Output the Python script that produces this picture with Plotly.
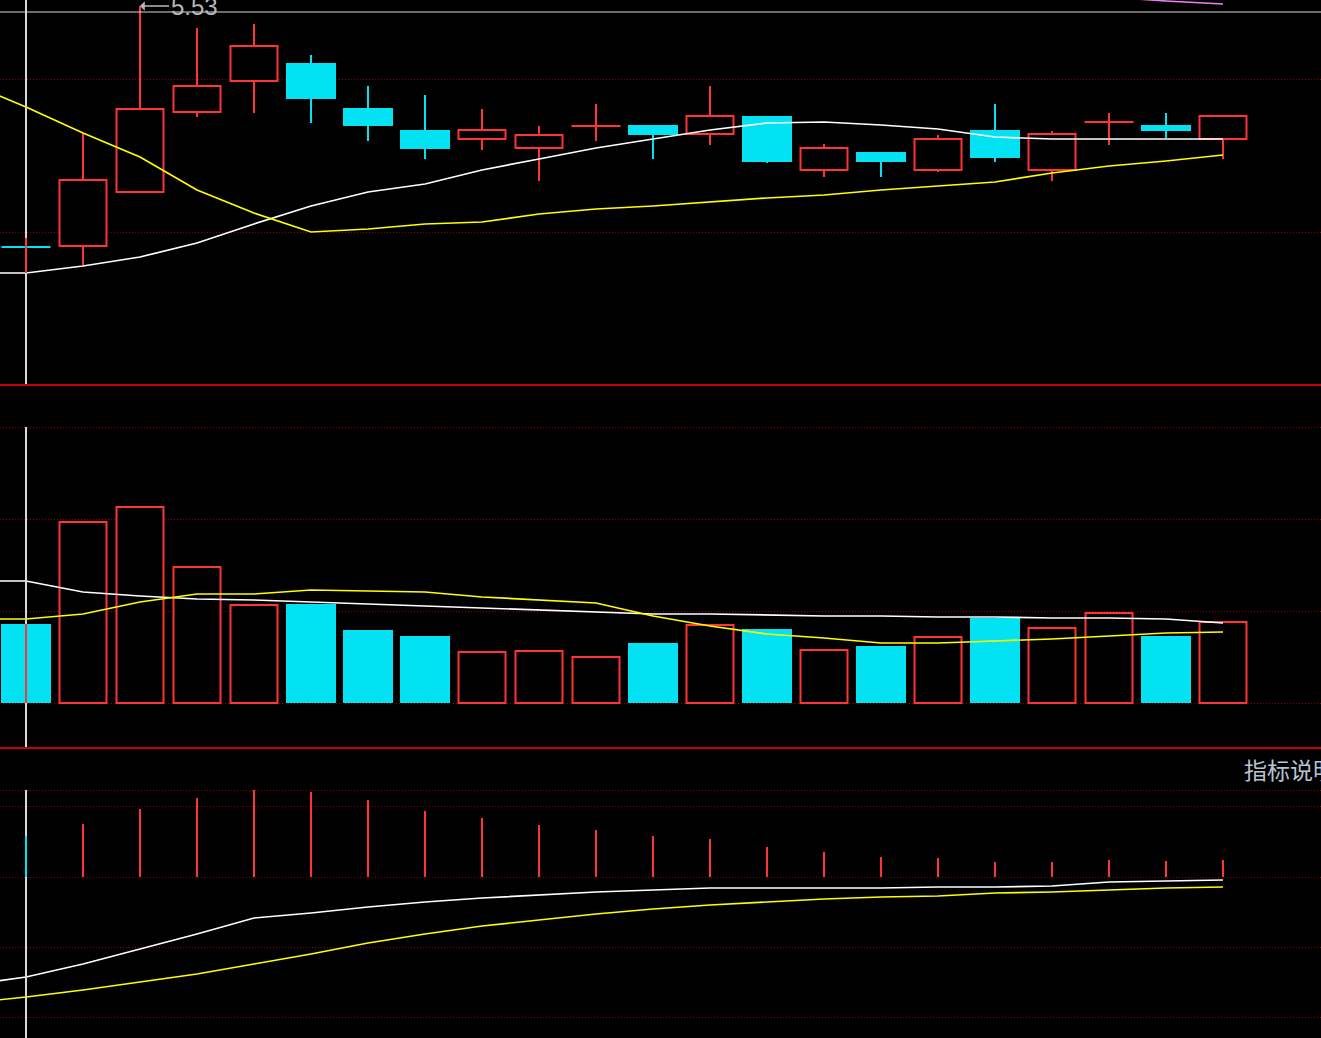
import plotly.graph_objects as go

# ------------------------------------------------------------------ data
# day index 0..21 (candles); line series also carry the value of day -1
days = list(range(22))
line_days = list(range(-1, 22))

open_ = [3.12, 3.13, 3.67, 4.47, 4.78, 4.96, 4.51, 4.29, 4.20, 4.11, 4.33,
         4.34, 4.25, 4.43, 3.89, 4.07, 3.89, 4.29, 3.89, 4.37, 4.34, 4.20]
high = [3.21, 4.26, 5.53, 5.31, 5.35, 5.04, 4.73, 4.64, 4.50, 4.33, 4.55,
        4.34, 4.73, 4.43, 4.15, 4.07, 4.24, 4.55, 4.28, 4.46, 4.46, 4.43]
low = [2.86, 2.94, 3.66, 4.42, 4.46, 4.36, 4.18, 4.00, 4.09, 3.78, 4.18,
       4.00, 4.14, 3.96, 3.82, 3.82, 3.87, 3.97, 3.78, 4.14, 4.21, 4.00]
close = [3.12, 3.79, 4.50, 4.73, 5.13, 4.60, 4.33, 4.10, 4.29, 4.24, 4.33,
         4.24, 4.43, 3.97, 4.11, 3.97, 4.20, 4.01, 4.25, 4.37, 4.28, 4.43]

ma_white = [2.86, 2.86, 2.93, 3.02, 3.16, 3.35, 3.53, 3.67, 3.75, 3.89, 4.00, 4.11,
            4.20, 4.29, 4.36, 4.37, 4.34, 4.30, 4.22, 4.20, 4.20, 4.20, 4.20]
ma_yellow = [4.76, 4.52, 4.26, 4.02, 3.69, 3.46, 3.27, 3.30, 3.35, 3.37, 3.45, 3.50,
             3.53, 3.57, 3.61, 3.64, 3.69, 3.73, 3.77, 3.86, 3.93, 3.98, 4.04]
ma_pink = [None] * 20 + [5.62, 5.58, 5.55]

volume = [39500, 90500, 98000, 68000, 49000, 49500, 36500, 33500, 25500, 26000, 23000,
          30000, 39000, 37000, 26500, 28500, 33000, 42500, 37500, 45000, 33500, 40500]
vol_ma_white = [61000, 61000, 55500, 53500, 52000, 51500, 50500, 49500, 48500, 47500, 46500,
                45500, 44500, 44500, 44000, 43500, 43500, 43000, 43000, 42500, 42500, 42000, 40000]
vol_ma_yellow = [42000, 42000, 44500, 50500, 54500, 54500, 56500, 56000, 55500, 53000, 51500,
                 50000, 43500, 38500, 34500, 32500, 30000, 30000, 31000, 32000, 33500, 35000, 35500]

macd_hist = [0.041, 0.053, 0.068, 0.079, 0.087, 0.085, 0.077, 0.066, 0.059, 0.052, 0.047,
             0.041, 0.038, 0.030, 0.025, 0.020, 0.019, 0.015, 0.015, 0.017, 0.016, 0.017]
dif = [-0.108, -0.100, -0.087, -0.072, -0.057, -0.041, -0.036, -0.030, -0.025, -0.021, -0.018,
       -0.015, -0.013, -0.011, -0.011, -0.011, -0.011, -0.010, -0.010, -0.009, -0.005, -0.004, -0.003]
dea = [-0.126, -0.120, -0.113, -0.105, -0.097, -0.087, -0.077, -0.066, -0.057, -0.049, -0.043,
       -0.037, -0.032, -0.028, -0.025, -0.022, -0.020, -0.019, -0.016, -0.015, -0.013, -0.011, -0.010]

cursor_index = 0
cursor_price = 5.47
indicator_label = "指标说明"

price_grid = [4.80, 3.27]
vol_grid = [0, 46000, 92000, 138000]
macd_grid = [0.087, 0.071, 0, -0.070, -0.140]

price_range = [1.74, 5.59]
vol_range = [-22500, 159000]
macd_range = [-0.161, 0.129]

# ------------------------------------------------------------------ styles
W, H = 1321, 1038
STEP = 57.0           # px per day
FIRST_PX = 26.0       # px position of day 0
RED = "#ff3434"
CYAN = "#02e2f2"
GRID = "#8c0000"
SEP = "#c40000"
CROSS = "#d8d8d8"
RED_W = 47 / STEP
CYAN_W = 50 / STEP
LW = 1.7

x0 = -FIRST_PX / STEP
x1 = x0 + W / STEP

# panel boundaries in px (from top)
P_PRICE_BOTTOM = 385
P_VOL_BOTTOM = 748
dom_price = [(H - P_PRICE_BOTTOM) / H, 1]
dom_vol = [(H - P_VOL_BOTTOM) / H, (H - P_PRICE_BOTTOM) / H]
dom_macd = [0, (H - P_VOL_BOTTOM) / H]


def direction(i):
    if close[i] > open_[i]:
        return 1
    if close[i] < open_[i]:
        return -1
    return 1 if (i > 0 and close[i] >= close[i - 1]) else -1


dirs = [direction(i) for i in days]

fig = go.Figure()

# ---------------- price panel: candle bodies
for d, col in ((1, RED), (-1, CYAN)):
    idx = [i for i in days if dirs[i] == d and close[i] != open_[i]]
    fig.add_trace(go.Bar(
        x=idx,
        base=[min(open_[i], close[i]) for i in idx],
        y=[abs(close[i] - open_[i]) for i in idx],
        width=RED_W if d == 1 else CYAN_W,
        marker=dict(color="black" if d == 1 else CYAN,
                    line=dict(color=col, width=2 if d == 1 else 0)),
        xaxis="x", yaxis="y", hoverinfo="skip"))

# wicks (split so they do not cross hollow bodies) and doji bars
for d, col in ((1, RED), (-1, CYAN)):
    wx, wy, dx, dy = [], [], [], []
    for i in days:
        if dirs[i] != d:
            continue
        top = max(open_[i], close[i])
        bot = min(open_[i], close[i])
        if high[i] > top:
            wx += [i, i, None]
            wy += [top, high[i], None]
        if low[i] < bot:
            wx += [i, i, None]
            wy += [bot, low[i], None]
        if close[i] == open_[i]:
            dx += [i - 0.43, i + 0.43, None]
            dy += [close[i], close[i], None]
    fig.add_trace(go.Scatter(x=wx, y=wy, mode="lines", line=dict(color=col, width=2),
                             xaxis="x", yaxis="y", hoverinfo="skip"))
    fig.add_trace(go.Scatter(x=dx, y=dy, mode="lines", line=dict(color=col, width=2),
                             xaxis="x", yaxis="y", hoverinfo="skip"))

for ser, col in ((ma_white, "#ffffff"), (ma_yellow, "#ffff00"), (ma_pink, "#ee82ee")):
    fig.add_trace(go.Scatter(x=line_days, y=ser, mode="lines", line=dict(color=col, width=LW),
                             xaxis="x", yaxis="y", hoverinfo="skip", connectgaps=False))

# ---------------- volume panel
for d, col in ((1, RED), (-1, CYAN)):
    idx = [i for i in days if dirs[i] == d]
    fig.add_trace(go.Bar(
        x=idx, y=[volume[i] for i in idx],
        width=RED_W if d == 1 else CYAN_W,
        marker=dict(color="black" if d == 1 else CYAN,
                    line=dict(color=col, width=2 if d == 1 else 0)),
        xaxis="x", yaxis="y2", hoverinfo="skip"))
for ser, col in ((vol_ma_white, "#ffffff"), (vol_ma_yellow, "#ffff00")):
    fig.add_trace(go.Scatter(x=line_days, y=ser, mode="lines", line=dict(color=col, width=LW),
                             xaxis="x", yaxis="y2", hoverinfo="skip"))

# ---------------- MACD panel
fig.add_trace(go.Bar(
    x=days, y=macd_hist, width=2 / STEP,
    marker=dict(color=[RED if v >= 0 else CYAN for v in macd_hist], line=dict(width=0)),
    xaxis="x", yaxis="y3", hoverinfo="skip"))
for ser, col in ((dif, "#ffffff"), (dea, "#ffff00")):
    fig.add_trace(go.Scatter(x=line_days, y=ser, mode="lines", line=dict(color=col, width=LW),
                             xaxis="x", yaxis="y3", hoverinfo="skip"))

# ---------------- crosshair (XOR-looking) and separators
shapes = []
ci = cursor_index
shapes.append(dict(type="line", xref="x", yref="y domain", x0=ci, x1=ci, y0=0, y1=1,
                   line=dict(color=CROSS, width=2)))
shapes.append(dict(type="line", xref="x domain", yref="y", x0=0, x1=1, y0=cursor_price, y1=cursor_price,
                   line=dict(color=CROSS, width=1)))
shapes.append(dict(type="line", xref="x", yref="y2", x0=ci, x1=ci, y0=vol_range[0], y1=vol_grid[-1],
                   line=dict(color=CROSS, width=2)))
shapes.append(dict(type="line", xref="x", yref="y3", x0=ci, x1=ci, y0=macd_range[0], y1=macd_grid[0],
                   line=dict(color=CROSS, width=2)))
inv = {1: CYAN, -1: RED}
shapes.append(dict(type="line", xref="x", yref="y", x0=ci, x1=ci, y0=low[ci], y1=high[ci],
                   line=dict(color=inv[dirs[ci]], width=2)))
shapes.append(dict(type="line", xref="x", yref="y2", x0=ci, x1=ci, y0=0, y1=volume[ci],
                   line=dict(color=inv[dirs[ci]], width=2)))
shapes.append(dict(type="line", xref="x", yref="y3", x0=ci, x1=ci, y0=0, y1=macd_hist[ci],
                   line=dict(color=inv[1 if macd_hist[ci] >= 0 else -1], width=2)))
for yp in (dom_price[0], dom_vol[0]):
    shapes.append(dict(type="line", xref="paper", yref="paper", x0=0, x1=1, y0=yp, y1=yp,
                       line=dict(color=SEP, width=2)))

# ---------------- annotations
imax = max(days, key=lambda i: high[i])
annotations = [
    dict(x=imax, y=high[imax], xref="x", yref="y", text=f"{high[imax]:.2f}",
         showarrow=True, ax=54, ay=0, arrowhead=1, arrowsize=1, arrowwidth=1.6,
         arrowcolor="#b8b8b8", standoff=0,
         font=dict(family="Liberation Sans, Arial, sans-serif", size=24, color="#b8b8b8")),
    dict(x=1242 / W, y=(H - 769) / H, xref="paper", yref="paper", text=indicator_label,
         showarrow=False, xanchor="left", yanchor="middle",
         font=dict(family="Noto Sans CJK SC, sans-serif", size=23, color="#b8c4d0")),
]


def yax(dom, rng, grid):
    return dict(domain=dom, range=rng, anchor="x", tickvals=grid, showticklabels=False,
                ticks="", showgrid=True, gridcolor=GRID, gridwidth=1, griddash="1px,2px",
                zeroline=False, showline=False, fixedrange=True)


fig.update_layout(
    width=W, height=H, margin=dict(l=0, r=0, t=0, b=0, pad=0),
    paper_bgcolor="black", plot_bgcolor="black", showlegend=False,
    barmode="overlay", hovermode=False,
    xaxis=dict(range=[x0, x1], showgrid=False, zeroline=False, showticklabels=False,
               ticks="", showline=False, anchor="y3", fixedrange=True),
    yaxis=yax(dom_price, price_range, price_grid),
    yaxis2=yax(dom_vol, vol_range, vol_grid),
    yaxis3=yax(dom_macd, macd_range, macd_grid),
    shapes=shapes, annotations=annotations,
)

fig.write_html(
    "out.html", include_plotlyjs=True, config={"displayModeBar": False},
    post_script="document.body.style.margin='0';document.body.style.overflow='hidden';"
                "document.body.style.background='#000';")
